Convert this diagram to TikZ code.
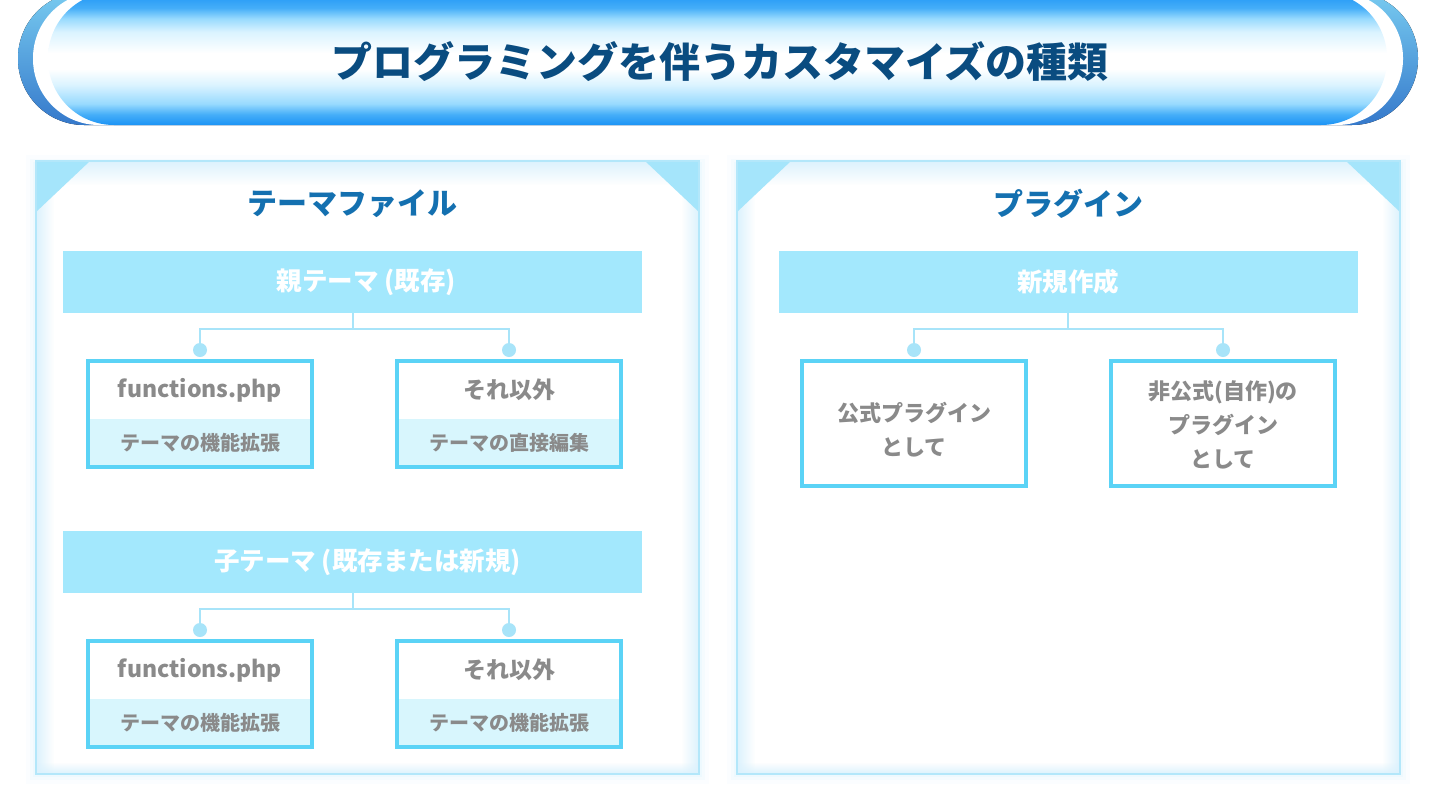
\documentclass[tikz,border=0pt]{standalone}
\usepackage{fontspec}
\setmainfont{Noto Sans CJK JP}
\usetikzlibrary{positioning,fadings}

\definecolor{titleblue}{HTML}{0A4C80}
\definecolor{secblue}{HTML}{1470B0}
\definecolor{barblue}{HTML}{A3E8FD}
\definecolor{boxblue}{HTML}{5BD3F6}
\definecolor{cellblue}{HTML}{D8F6FD}
\definecolor{txtgray}{HTML}{8A8A8A}
\definecolor{linkblue}{HTML}{A8E4F9}
\definecolor{panelline}{HTML}{B3E7FA}
\definecolor{glowblue}{HTML}{DCF2FD}
\definecolor{cornerblue}{HTML}{A5E5FB}
\definecolor{pillblue}{HTML}{1B93F5}
\definecolor{pillmid}{HTML}{45AEF8}
\definecolor{pillsoft}{HTML}{98DAFE}
\definecolor{pilllight}{HTML}{DAF3FF}
\definecolor{backtop}{HTML}{78CBF0}
\definecolor{backbot}{HTML}{3579CB}

\pgfdeclareverticalshading{pillshade}{100bp}{color(0bp)=(pillblue); color(25bp)=(pillblue); color(29bp)=(pillmid); color(33bp)=(pillsoft); color(40bp)=(pilllight); color(46bp)=(white); color(52bp)=(white); color(60bp)=(pilllight); color(65bp)=(pillsoft); color(69bp)=(pillmid); color(75bp)=(pillblue); color(100bp)=(pillblue)}

\tikzfading[name=fadel, left color=transparent!0, right color=transparent!100]
\tikzfading[name=fader, left color=transparent!100, right color=transparent!0]
\tikzfading[name=fadet, top color=transparent!0, bottom color=transparent!100]
\tikzfading[name=fadeb, top color=transparent!100, bottom color=transparent!0]

\begin{document}
\begin{tikzpicture}[x=1pt,y=-1pt,
    sectitle/.style={text=secblue, font=\fontsize{30}{33}\selectfont\bfseries},
    hdbar/.style={fill=barblue, minimum width=579pt, minimum height=62pt, inner sep=0pt},
    hdtext/.style={text=white, font=\fontsize{25.5}{28}\selectfont\bfseries},
    topcell/.style={fill=white, text=txtgray, minimum width=224pt, minimum height=58pt, inner sep=0pt, font=\fontsize{23}{25}\selectfont\bfseries},
    lowcell/.style={fill=cellblue, text=txtgray, minimum width=224pt, minimum height=48pt, inner sep=0pt, font=\fontsize{20}{22}\selectfont\bfseries},
    tallcell/.style={fill=white, draw=boxblue, line width=4pt, minimum width=224pt, minimum height=125pt, inner sep=0pt},
    celltext/.style={text=txtgray, align=center, font=\fontsize{22}{34}\selectfont\bfseries},
    frame/.style={draw=boxblue, line width=4pt},
    link/.style={draw=linkblue, line width=2pt},
    dot/.style={circle, fill=linkblue, inner sep=0pt, minimum size=14pt},
    ]
    \useasboundingbox (0,0) rectangle (1437,806);

    % title banner
    \fill [top color=backtop, bottom color=backbot, rounded corners=66pt] (18,-8) rectangle (1418,125);
    \fill [white, rounded corners=66pt] (33,-8) rectangle (1403,125);
    \shade [shading=pillshade, rounded corners=66pt] (48,-8) rectangle (1387,125);
    \node [text=titleblue, font=\fontsize{41}{45}\selectfont\bfseries] (ttl) at (720,62) {プログラミングを伴うカスタマイズの種類};

    % panels
    \foreach \l/\r in {36/699, 737/1400} {
      \foreach \g/\o in {10/0.12, 6/0.18, 3/0.3}
        \fill [glowblue, opacity=\o] (\l-\g,161-\g+4) rectangle (\r+\g,774+\g);
      \fill [white] (\l,161) rectangle (\r,774);
      \fill [glowblue, path fading=fadel] (\l,161) rectangle (\l+18,774);
      \fill [glowblue, path fading=fader] (\r-18,161) rectangle (\r,774);
      \fill [glowblue, path fading=fadet] (\l,161) rectangle (\r,185);
      \fill [glowblue, path fading=fadeb] (\l,762) rectangle (\r,774);
      \fill [cornerblue] (\l,161) -- (\l+54,161) -- (\l,212) -- cycle;
      \fill [cornerblue] (\r-54,161) -- (\r,161) -- (\r,212) -- cycle;
      \draw [panelline, line width=2pt] (\l,161) rectangle (\r,774);
    }

    \node [sectitle] (s1) at (352,204) {テーマファイル};
    \node [sectitle] (s2) at (1068,204) {プラグイン};

    % theme files
    \node [hdbar, label={[hdtext, xshift=14pt]center:親テーマ (既存)}] (h1) at (352.5,282) {};
    \node [hdbar, label={[hdtext, xshift=15pt]center:子テーマ (既存または新規)}] (h2) at (352.5,562) {};

    \node [topcell] (a1) at (200,390) {functions.php};
    \node [lowcell] (a2) at (200,443) {テーマの機能拡張};
    \node [topcell] (b1) at (509,390) {それ以外};
    \node [lowcell] (b2) at (509,443) {テーマの直接編集};
    \node [topcell] (c1) at (200,670) {functions.php};
    \node [lowcell] (c2) at (200,723) {テーマの機能拡張};
    \node [topcell] (d1) at (509,670) {それ以外};
    \node [lowcell] (d2) at (509,723) {テーマの機能拡張};

    \draw [frame] (a1.north west) rectangle (a2.south east);
    \draw [frame] (b1.north west) rectangle (b2.south east);
    \draw [frame] (c1.north west) rectangle (c2.south east);
    \draw [frame] (d1.north west) rectangle (d2.south east);

    \node [dot] (da) at (200,350) {};
    \node [dot] (db) at (509,350) {};
    \node [dot] (dc) at (200,630) {};
    \node [dot] (dd) at (509,630) {};
    \coordinate (j1) at (352.5,329);
    \coordinate (j2) at (352.5,609);

    \draw [link] (h1.south) -- (j1);
    \draw [link] (da) |- (j1) -| (db);
    \draw [link] (h2.south) -- (j2);
    \draw [link] (dc) |- (j2) -| (dd);

    % plugins
    \node [hdbar, label={[hdtext]center:新規作成}] (h3) at (1068,282) {};

    \node [tallcell] (p1) at (914,423.5) {};
    \node [tallcell] (p2) at (1223,423.5) {};
    \node [celltext] (t1) at (914,430) {公式プラグイン\\として};
    \node [celltext] (t2) at (1223,425) {非公式(自作)の\\プラグイン\\として};

    \node [dot] (dp1) at (914,350) {};
    \node [dot] (dp2) at (1223,350) {};
    \coordinate (j3) at (1068,329);

    \draw [link] (h3.south) -- (j3);
    \draw [link] (dp1) |- (j3) -| (dp2);

\end{tikzpicture}
\end{document}
